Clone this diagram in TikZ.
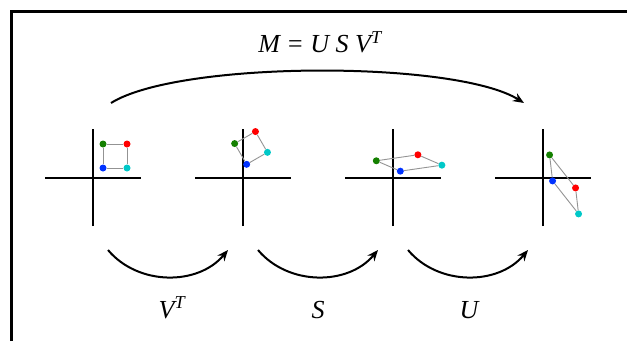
\documentclass[tikz,border=0pt]{standalone}
\usepackage{fontspec}
\setmainfont{Liberation Serif}
\usepackage{tikz}
\definecolor{dotgreen}{RGB}{20,128,0}
\definecolor{dotred}{RGB}{255,0,0}
\definecolor{dotblue}{RGB}{0,50,255}
\definecolor{dotcyan}{RGB}{0,200,200}
\usetikzlibrary{arrows.meta, positioning}

\begin{document}
\begin{tikzpicture}[
    x=1pt, y=1pt,
    axis/.style={line width=1.2pt, black},
    edge/.style={line width=0.9pt, gray!85},
    dot/.style={circle, inner sep=0pt, minimum size=7pt},
    bigarrow/.style={line width=2pt, -{Stealth[length=11pt, width=9pt]}},
    lbl/.style={font=\fontsize{26}{30}\selectfont\itshape, anchor=base}
]
    \useasboundingbox (0,0) rectangle (627,341);
    % frame
    \draw[line width=3pt] (11.5,0) -- (11.5,329.5) -- (627,329.5);

    % Panel 1: start square
    \begin{scope}[shift={(93,163)}]
        \coordinate (a1w) at (-48,0); \coordinate (a1e) at (48,0);
        \coordinate (a1s) at (0,-48); \coordinate (a1n) at (0,49);
        \draw[axis] (a1w) -- (a1e);
        \draw[axis] (a1s) -- (a1n);
        \node[dot, fill=dotblue] (b1) at (10,10) {};
        \node[dot, fill=dotcyan] (c1) at (34,10) {};
        \node[dot, fill=dotred] (r1) at (34,34) {};
        \node[dot, fill=dotgreen] (g1) at (10,34) {};
        \draw[edge] (b1) -- (c1) -- (r1) -- (g1) -- (b1);
    \end{scope}

    % Panel 2: after V^T
    \begin{scope}[shift={(243,163)}]
        \coordinate (a2w) at (-48,0); \coordinate (a2e) at (48,0);
        \coordinate (a2s) at (0,-48); \coordinate (a2n) at (0,49);
        \draw[axis] (a2w) -- (a2e);
        \draw[axis] (a2s) -- (a2n);
        \begin{scope}[rotate=30]
            \node[dot, fill=dotblue] (b2) at (10,10) {};
            \node[dot, fill=dotcyan] (c2) at (34,10) {};
            \node[dot, fill=dotred] (r2) at (34,34) {};
            \node[dot, fill=dotgreen] (g2) at (10,34) {};
        \end{scope}
        \draw[edge] (b2) -- (c2) -- (r2) -- (g2) -- (b2);
    \end{scope}

    % Panel 3: after S
    \begin{scope}[shift={(393,163)}]
        \coordinate (a3w) at (-48,0); \coordinate (a3e) at (48,0);
        \coordinate (a3s) at (0,-48); \coordinate (a3n) at (0,49);
        \draw[axis] (a3w) -- (a3e);
        \draw[axis] (a3s) -- (a3n);
        \begin{scope}[xscale=2, yscale=0.5, rotate=30]
            \node[dot, fill=dotblue] (b3) at (10,10) {};
            \node[dot, fill=dotcyan] (c3) at (34,10) {};
            \node[dot, fill=dotred] (r3) at (34,34) {};
            \node[dot, fill=dotgreen] (g3) at (10,34) {};
        \end{scope}
        \draw[edge] (b3) -- (c3) -- (r3) -- (g3) -- (b3);
    \end{scope}

    % Panel 4: after U
    \begin{scope}[shift={(543,163)}]
        \coordinate (a4w) at (-48,0); \coordinate (a4e) at (48,0);
        \coordinate (a4s) at (0,-48); \coordinate (a4n) at (0,49);
        \draw[axis] (a4w) -- (a4e);
        \draw[axis] (a4s) -- (a4n);
        \begin{scope}[rotate=-60, xscale=2, yscale=0.5, rotate=30]
            \node[dot, fill=dotblue] (b4) at (10,10) {};
            \node[dot, fill=dotcyan] (c4) at (34,10) {};
            \node[dot, fill=dotred] (r4) at (34,34) {};
            \node[dot, fill=dotgreen] (g4) at (10,34) {};
        \end{scope}
        \draw[edge] (b4) -- (c4) -- (r4) -- (g4) -- (b4);
    \end{scope}

    % arcs between panels
    \coordinate (top1) at (111,238);
    \coordinate (top4) at (524,238);
    \draw[bigarrow] (top1) to[bend left=32, looseness=0.5] (top4);
    \node[lbl] (svd) at (320,288) {M = U S V\textsuperscript{T}};

    \coordinate (bot1) at (108,91);
    \coordinate (bot2) at (228,91);
    \coordinate (bot3) at (258,91);
    \coordinate (bot4) at (378,91);
    \coordinate (bot5) at (408,91);
    \coordinate (bot6) at (528,91);
    \draw[bigarrow] (bot1) to[bend right=50] (bot2);
    \draw[bigarrow] (bot3) to[bend right=50] (bot4);
    \draw[bigarrow] (bot5) to[bend right=50] (bot6);
    \node[lbl] (lv) at (172,23) {V\textsuperscript{T}};
    \node[lbl] (ls) at (318,23) {S};
    \node[lbl] (lu) at (469,23) {U};
\end{tikzpicture}
\end{document}
